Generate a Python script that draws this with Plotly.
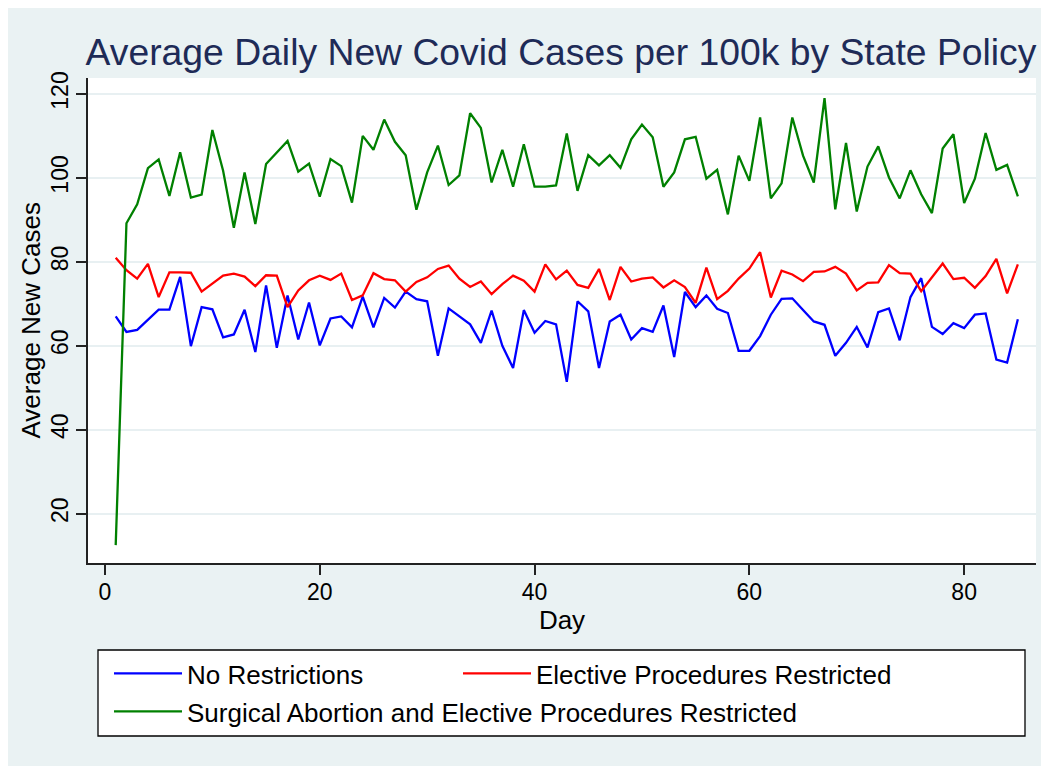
import plotly.graph_objects as go

days = list(range(1, 86))

no_restrictions = [
    67.0, 63.3, 63.8, 66.2, 68.6, 68.6, 76.4, 59.9, 69.2, 68.7,
    62.0, 62.7, 68.6, 58.5, 74.4, 59.5, 72.0, 61.5, 70.3, 60.1,
    66.5, 67.0, 64.4, 71.7, 64.4, 71.4, 69.1, 72.9, 71.1, 70.6,
    57.6, 68.9, 67.1, 65.1, 60.7, 68.4, 60.0, 54.7, 68.5, 63.1,
    65.9, 65.1, 51.4, 70.6, 68.2, 54.7, 65.8, 67.4, 61.5, 64.2,
    63.3, 69.6, 57.3, 72.8, 69.2, 72.0, 68.8, 67.8, 58.8, 58.8,
    62.3, 67.4, 71.2, 71.3, 68.5, 65.8, 65.0, 57.6, 60.7, 64.5,
    59.6, 68.0, 68.9, 61.3, 71.6, 76.1, 64.5, 62.8, 65.4, 64.2,
    67.4, 67.7, 56.7, 56.0, 66.3,
]

elective_restricted = [
    81.0, 78.0, 76.0, 79.5, 71.6, 77.5, 77.5, 77.4, 72.9, 74.8,
    76.7, 77.2, 76.5, 74.2, 76.8, 76.7, 69.2, 73.2, 75.6, 76.7,
    75.7, 77.2, 70.9, 72.0, 77.3, 75.9, 75.6, 72.9, 75.2, 76.3,
    78.3, 79.1, 76.0, 74.0, 75.3, 72.3, 74.7, 76.7, 75.5, 72.9,
    79.4, 75.8, 77.9, 74.5, 73.8, 78.3, 70.9, 78.8, 75.3, 76.0,
    76.3, 73.9, 75.6, 74.0, 70.2, 78.6, 71.1, 73.1, 76.0, 78.4,
    82.3, 71.5, 77.9, 77.0, 75.4, 77.6, 77.7, 78.8, 77.2, 73.2,
    75.0, 75.1, 79.2, 77.3, 77.2, 73.0, 76.3, 79.6, 75.9, 76.2,
    73.8, 76.6, 80.7, 72.5, 79.4,
]

abortion_elective_restricted = [
    12.5, 89.2, 93.7, 102.3, 104.4, 95.7, 106.1, 95.3, 96.0, 111.4,
    101.7, 88.1, 101.3, 89.0, 103.3, 106.1, 108.8, 101.5, 103.4, 95.5,
    104.5, 102.8, 94.1, 110.0, 106.7, 113.9, 108.6, 105.4, 92.4, 101.3,
    107.7, 98.3, 100.6, 115.4, 111.9, 98.9, 106.7, 97.9, 108.0, 97.9,
    97.9, 98.2, 110.6, 96.9, 105.4, 103.0, 105.4, 102.4, 109.2, 112.7,
    109.7, 97.9, 101.3, 109.2, 109.8, 99.8, 101.9, 91.3, 105.3, 99.3,
    114.4, 95.1, 98.7, 114.4, 105.3, 98.9, 119.0, 92.5, 108.3, 92.0,
    102.7, 107.5, 100.1, 95.1, 101.8, 96.1, 91.6, 107.0, 110.4, 94.0,
    99.8, 110.7, 101.9, 103.1, 95.6,
]

series_names = [
    "No Restrictions",
    "Elective Procedures Restricted",
    "Surgical Abortion and Elective Procedures Restricted",
]
series_colors = ["#0000FF", "#FF0000", "#008000"]
series_legends = ["legend", "legend2", "legend3"]
x_ticks = [0, 20, 40, 60, 80]
y_ticks = [20, 40, 60, 80, 100, 120]

# page is rendered with an 8px body margin
OFF = 8
W, H = 1037, 758
ML, MR, MT, MB = 80, 9, 70, 203
PW, PH = W - ML - MR, H - MT - MB


def px_x(p):
    """page x pixel -> paper x"""
    return (p - OFF - ML) / PW


def px_y(p):
    """page y pixel -> paper y"""
    return (H - MB - (p - OFF)) / PH


BG = "#EAF2F3"
FONT = "Liberation Sans, Arial, Helvetica, sans-serif"

fig = go.Figure()
for name, vals, col, lg in zip(series_names,
                               [no_restrictions, elective_restricted, abortion_elective_restricted],
                               series_colors, series_legends):
    fig.add_trace(go.Scatter(x=days, y=vals, mode="lines", name=name, legend=lg,
                             line=dict(color=col, width=2.3)))

shapes = [
    dict(type="rect", xref="paper", yref="paper", x0=px_x(98), x1=px_x(1025), y0=px_y(736), y1=px_y(650),
         fillcolor="white", line=dict(color="black", width=1.3), layer="below"),
]

leg_common = dict(orientation="v", xanchor="left", yanchor="top",
                  bgcolor="rgba(0,0,0,0)", borderwidth=0, font=dict(size=26),
                  itemwidth=68, tracegroupgap=0)

fig.update_layout(
    width=W, height=H,
    margin=dict(l=ML, r=MR, t=MT, b=MB, pad=0),
    paper_bgcolor=BG,
    plot_bgcolor="white",
    font=dict(family=FONT, color="black"),
    title=dict(text="Average Daily New Covid Cases per 100k by State Policy",
               x=(561 - OFF) / W, xanchor="center",
               y=1 - (52 - OFF) / H, yanchor="middle",
               font=dict(size=37.3, color="#1e2b57", family=FONT)),
    xaxis=dict(range=[-1.58, 86.69], tickvals=x_ticks, showgrid=False, zeroline=False,
               showline=True, linecolor="#222", linewidth=1.5, automargin=False,
               ticks="outside", ticklen=10, tickwidth=1.5, tickcolor="#222",
               tickfont=dict(size=23), ticklabelstandoff=-2,
               title=dict(text="Day", font=dict(size=26), standoff=4)),
    yaxis=dict(range=[8.24, 123.8], tickvals=y_ticks, showgrid=True, gridcolor="#E8F0F2", gridwidth=1.6,
               zeroline=False, showline=True, linecolor="#222", linewidth=1.5, automargin=False,
               ticks="outside", ticklen=10, tickwidth=1.5, tickcolor="#222",
               tickangle=-90, tickfont=dict(size=23), ticklabelstandoff=-1),
    annotations=[
        dict(text="Average New Cases", xref="paper", yref="paper",
             x=px_x(30), y=0.5, xanchor="center", yanchor="middle",
             textangle=-90, showarrow=False, font=dict(size=26, color="black")),
    ],
    legend=dict(x=px_x(109), y=px_y(650), **leg_common),
    legend2=dict(x=px_x(458), y=px_y(650), **leg_common),
    legend3=dict(x=px_x(109), y=px_y(688), **leg_common),
    shapes=shapes,
    showlegend=True,
)

fig.write_html("out.html")
